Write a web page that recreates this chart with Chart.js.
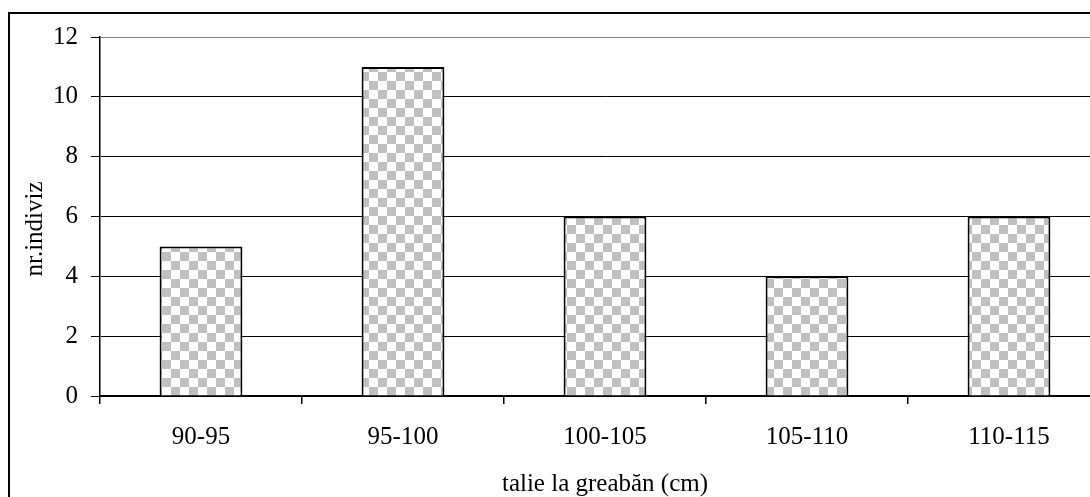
<!DOCTYPE html>
<html>
<head>
<meta charset="utf-8">
<script src="https://cdn.jsdelivr.net/npm/chart.js@4/dist/chart.umd.min.js"></script>
<style>
    html, body { margin: 0; padding: 0; background: #fff; overflow: hidden; }
    #wrap { width: 1140px; height: 520px; }
</style>
</head>
<body>
<div id="wrap"><canvas id="chart" width="1140" height="520"></canvas></div>
<script>
const categories = ['90-95', '95-100', '100-105', '105-110', '110-115'];
const counts = [5, 11, 6, 4, 6];
const yTicks = [0, 2, 4, 6, 8, 10, 12];
const xTitle = 'talie la greabăn (cm)';
const yTitle = 'nr.indiviz';

const FONT = { family: '"Liberation Serif", "Times New Roman", serif', size: 25 };

// checkered fill like the old excel pattern
function makeChecker() {
    const cell = 9;
    const pc = document.createElement('canvas');
    pc.width = cell * 2;
    pc.height = cell * 2;
    const g = pc.getContext('2d');
    g.fillStyle = '#ffffff';
    g.fillRect(0, 0, pc.width, pc.height);
    g.fillStyle = '#c0c0c0';
    g.fillRect(0, 0, cell, cell);
    g.fillRect(cell, cell, cell, cell);
    return g.createPattern(pc, 'repeat');
}

const frame = {
    id: 'frame',
    beforeDraw(chart) {
        const c = chart.ctx;
        c.save();
        c.fillStyle = '#fff';
        c.fillRect(0, 0, chart.width, chart.height);
        c.strokeStyle = '#000';
        c.lineWidth = 2;
        c.strokeRect(9, 13, 2000, 2000);
        c.restore();
    }
};

const ctx = document.getElementById('chart').getContext('2d');

new Chart(ctx, {
    type: 'bar',
    data: {
        labels: categories,
        datasets: [{
            label: yTitle,
            data: counts,
            backgroundColor: makeChecker(),
            borderColor: '#000',
            borderWidth: 2,
            categoryPercentage: 1,
            barPercentage: 0.41
        }]
    },
    options: {
        responsive: false,
        animation: false,
        devicePixelRatio: 1,
        layout: { padding: { top: 37, right: 30, bottom: 21, left: 0 } },
        plugins: {
            legend: { display: false },
            tooltip: { enabled: false }
        },
        scales: {
            x: {
                offset: true,
                grid: {
                    offset: true,
                    drawOnChartArea: false,
                    drawTicks: true,
                    tickLength: 8,
                    color: '#000',
                    lineWidth: 1.5
                },
                border: { display: true, color: '#000', width: 1.5 },
                ticks: { color: '#000', font: FONT, padding: 18, maxRotation: 0 },
                title: { display: true, text: xTitle, color: '#000', font: FONT, padding: { top: 0, bottom: 0 } },
                afterFit: (s) => { s.height = 103; }
            },
            y: {
                min: 0,
                max: 12,
                afterBuildTicks: (s) => { s.ticks = yTicks.map(v => ({ value: v })); },
                grid: {
                    color: (c) => (c.tick && c.tick.value === 12) ? '#808080' : '#000',
                    tickColor: '#000',
                    lineWidth: 1,
                    tickLength: 9
                },
                border: { display: true, color: '#000', width: 1.5 },
                ticks: { color: '#000', font: FONT, padding: 13 },
                // trailing spaces push the rotated text down a little, as in the original
                title: { display: true, text: yTitle + '\u00a0\u00a0\u00a0\u00a0', color: '#000', font: FONT, padding: { top: 20, bottom: 0 } },
                afterFit: (s) => { s.width = 100; }
            }
        }
    },
    plugins: [frame]
});
</script>
</body>
</html>
